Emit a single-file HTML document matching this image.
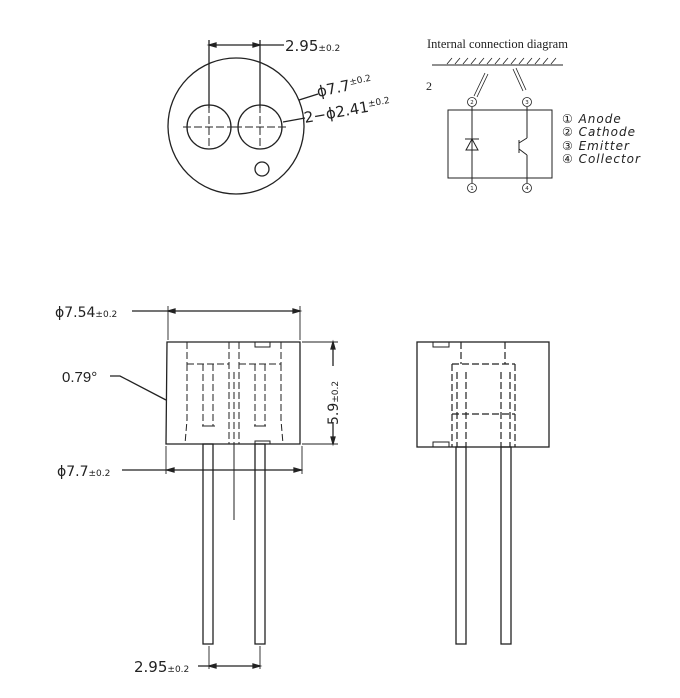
<!DOCTYPE html>
<html><head><meta charset="utf-8"><style>
html,body{margin:0;padding:0;background:#fff;}
svg{display:block;}
text{font-family:"DejaVu Sans","Liberation Sans",sans-serif;fill:#222;}
</style></head><body>
<svg width="680" height="698" viewBox="0 0 680 698" xmlns="http://www.w3.org/2000/svg" stroke="#222" fill="none" stroke-width="1.3">
<!-- TOP VIEW -->
<circle cx="236" cy="126" r="68"/>
<circle cx="209" cy="127" r="22"/>
<circle cx="260" cy="127" r="22"/>
<circle cx="262" cy="169" r="7"/>
<g stroke-dasharray="8,3" stroke-width="1">
<line x1="183" y1="127" x2="235" y2="127"/>
<line x1="234" y1="127" x2="286" y2="127"/>
<line x1="209" y1="105" x2="209" y2="149"/>
<line x1="260" y1="105" x2="260" y2="149"/>
</g>
<line x1="209" y1="40" x2="209" y2="108"/>
<line x1="260" y1="40" x2="260" y2="108"/>
<line x1="209" y1="45" x2="284" y2="45"/>
<path d="M209 45 l7 -2 v4z M260 45 l-7 -2 v4z" fill="#222"/>
<text x="285" y="51" font-size="15" stroke="none">2.95<tspan font-size="9">±0.2</tspan></text>
<line x1="299" y1="100" x2="318" y2="94"/>
<text x="318" y="97" font-size="15" stroke="none" transform="rotate(-12 318 97)">ϕ7.7<tspan font-size="9" dy="-5">±0.2</tspan></text>
<line x1="283" y1="122" x2="305" y2="118"/>
<text x="305" y="123" font-size="15" stroke="none" transform="rotate(-10 305 123)">2−ϕ2.41<tspan font-size="9" dy="-5">±0.2</tspan></text>

<!-- INTERNAL CONNECTION -->
<text x="427" y="48" font-size="12.5" stroke="none" style="font-family:'Liberation Serif',serif">Internal connection diagram</text>
<line x1="432" y1="65" x2="563" y2="65" stroke-width="1"/>
<g stroke-width="0.8">
<path d="M447 64 l5 -6 M455 64 l5 -6 M463 64 l5 -6 M471 64 l5 -6 M479 64 l5 -6 M487 64 l5 -6 M495 64 l5 -6 M503 64 l5 -6 M511 64 l5 -6 M519 64 l5 -6 M527 64 l5 -6 M535 64 l5 -6 M543 64 l5 -6 M551 64 l5 -6"/>
<path d="M474 96 L485 73 M477 97 L488 74 M513 69 L523 91 M516 68 L526 90"/>
</g>
<text x="426" y="90" font-size="12" stroke="none" style="font-family:'Liberation Serif',serif">2</text>
<rect x="448" y="110" width="104" height="68" stroke-width="1"/>
<line x1="472" y1="107" x2="472" y2="183" stroke-width="1"/>
<line x1="527" y1="107" x2="527" y2="138" stroke-width="1"/>
<line x1="527" y1="155" x2="527" y2="183" stroke-width="1"/>
<path d="M466 150 L478 150 L472 139 Z M465 139 H479" stroke-width="1"/>
<path d="M519 140 V153 M519 143 L527 138 M519 149 L527 155" stroke-width="1"/>
<g stroke-width="0.8">
<circle cx="472" cy="102" r="4.5"/><circle cx="527" cy="102" r="4.5"/>
<circle cx="472" cy="188" r="4.5"/><circle cx="527" cy="188" r="4.5"/>
</g>
<g font-size="5.5" stroke="none" text-anchor="middle">
<text x="472" y="104">2</text><text x="527" y="104">3</text><text x="472" y="190">1</text><text x="527" y="190">4</text>
</g>
<g font-size="12" font-style="italic" stroke="none" letter-spacing="1">
<text x="562" y="123">① Anode</text>
<text x="562" y="136">② Cathode</text>
<text x="562" y="150">③ Emitter</text>
<text x="562" y="163">④ Collector</text>
</g>

<!-- SIDE VIEW -->
<path d="M167 342 H300 V444 H166 Z"/>
<line x1="168" y1="306" x2="168" y2="340" stroke-width="0.9"/>
<line x1="300" y1="306" x2="300" y2="340" stroke-width="0.9"/>
<line x1="132" y1="311" x2="300" y2="311"/>
<path d="M168 311 l7 -2 v4z M300 311 l-7 -2 v4z" fill="#222"/>
<text x="55" y="317" font-size="14" stroke="none">ϕ7.54<tspan font-size="9">±0.2</tspan></text>
<line x1="302" y1="342" x2="338" y2="342" stroke-width="0.9"/>
<line x1="302" y1="444" x2="338" y2="444" stroke-width="0.9"/>
<line x1="333" y1="342" x2="333" y2="444"/>
<path d="M333 342 l-2 7 h4z M333 444 l-2 -7 h4z" fill="#222"/>
<rect x="326" y="366" width="14" height="56" fill="#fff" stroke="none"/>
<text x="0" y="0" font-size="14" stroke="none" transform="translate(338 425) rotate(-90)">5.9<tspan font-size="9">±0.2</tspan></text>
<text x="62" y="382" font-size="15" stroke="none" style="font-family:'Liberation Sans',sans-serif">0.79°</text>
<path d="M110 376 H120 L166 400"/>
<line x1="166" y1="446" x2="166" y2="474" stroke-width="0.9"/>
<line x1="302" y1="446" x2="302" y2="474" stroke-width="0.9"/>
<line x1="122" y1="470" x2="302" y2="470"/>
<path d="M167 470 l7 -2 v4z M301 470 l-7 -2 v4z" fill="#222"/>
<text x="57" y="476" font-size="14" stroke="none">ϕ7.7<tspan font-size="9">±0.2</tspan></text>
<g stroke-dasharray="7,3" stroke-width="1">
<path d="M187 342 V364 M187 364 V420 L185 444 M281 342 V364 M281 364 V420 L283 444"/>
<path d="M229 342 V444 M239 342 V444"/>
<path d="M187 364 H229 M239 364 H281"/>
<path d="M203 364 V426 M213 364 V426 M255 364 V426 M265 364 V426 M234 372 V444"/>
</g>
<path d="M255 342 V347 H270 V342 M202 426 H215 M254 426 H266 M255 444 V441 H270 V444" stroke-width="1"/>
<rect x="203" y="444" width="10" height="200"/>
<rect x="255" y="444" width="10" height="200"/>
<line x1="234" y1="444" x2="234" y2="520" stroke-width="1"/>
<line x1="209" y1="646" x2="209" y2="669" stroke-width="0.9"/>
<line x1="260" y1="646" x2="260" y2="669" stroke-width="0.9"/>
<line x1="198" y1="666" x2="260" y2="666"/>
<path d="M209 666 l7 -2 v4z M260 666 l-7 -2 v4z" fill="#222"/>
<text x="134" y="672" font-size="15" stroke="none">2.95<tspan font-size="9">±0.2</tspan></text>

<!-- FRONT VIEW -->
<rect x="417" y="342" width="132" height="105"/>
<path d="M433 342 V347 H449 V342 M433 447 V442 H449 V447" stroke-width="1"/>
<g stroke-dasharray="7,3" stroke-width="1.2">
<path d="M452 364 H515 M452 364 V447 M515 364 V447 M452 414 H515"/>
<path d="M461 342 V364 M505 342 V364 M457 372 V447 M466 372 V447 M501 372 V447 M510 372 V447"/>
</g>
<rect x="456" y="447" width="10" height="197"/>
<rect x="501" y="447" width="10" height="197"/>
</svg>
</body></html>
